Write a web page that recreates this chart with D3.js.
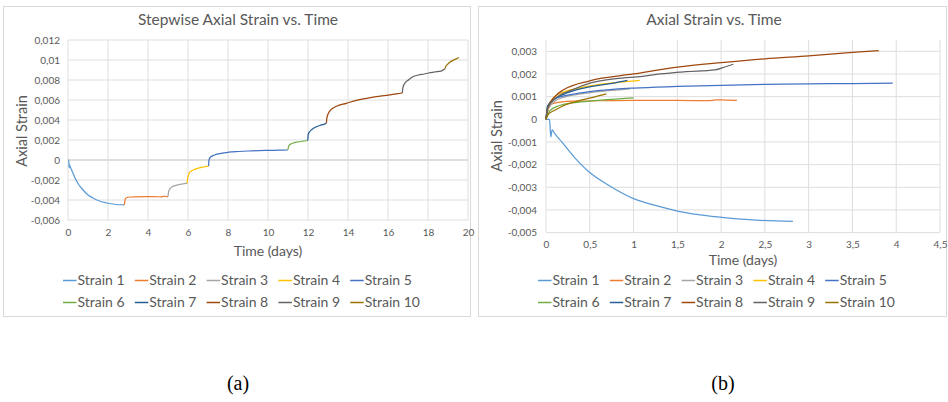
<!DOCTYPE html>
<html>
<head>
<meta charset="utf-8">
<script src="https://cdn.jsdelivr.net/npm/d3@7"></script>
<style>
  body { margin: 0; background: #fff; }
  svg { display: block; font-family: Lato, "Open Sans", sans-serif; }
</style>
</head>
<body>
<svg id="main" width="948" height="402"></svg>
<script>
var seriesNames = ["Strain 1", "Strain 2", "Strain 3", "Strain 4", "Strain 5",
                   "Strain 6", "Strain 7", "Strain 8", "Strain 9", "Strain 10"];
var seriesColors = ["#5B9BD5", "#ED7D31", "#A5A5A5", "#FFC000", "#4472C4",
                    "#70AD47", "#255E91", "#9E480E", "#636363", "#997300"];

// time since the start of each load step (days)
var dayPoints = [
  [0, 0.04, 0.055, 0.07, 0.1, 0.18, 0.33, 0.5, 0.71, 1.0, 1.25, 1.5, 1.93, 2.4, 2.82],
  [0, 0.03, 0.08, 0.3, 0.6, 1.0, 1.5, 1.85, 1.95, 2.05, 2.18],
  [0, 0.03, 0.1, 0.2, 0.4, 0.6, 0.8, 0.96],
  [0, 0.03, 0.1, 0.2, 0.4, 0.6, 0.8, 1.07],
  [0, 0.02, 0.1, 0.3, 0.5, 1.0, 1.5, 2.0, 2.5, 3.0, 3.5, 3.96],
  [0, 0.05, 0.15, 0.3, 0.5, 0.75, 1.0],
  [0, 0.02, 0.1, 0.2, 0.4, 0.6, 0.8, 0.93],
  [0, 0.02, 0.1, 0.2, 0.5, 1.0, 1.5, 2.0, 2.5, 3.0, 3.5, 3.8],
  [0, 0.02, 0.1, 0.3, 0.5, 0.8, 1.1, 1.3, 1.6, 1.93, 2.05, 2.14],
  [0, 0.02, 0.1, 0.2, 0.4, 0.55, 0.69]
];
// axial strain of each load step, measured from its own start
var strainPoints = [
  [0, 0, -0.00078, -0.00047, -0.00063, -0.001, -0.0017, -0.00235, -0.0029, -0.0035, -0.0038, -0.00405, -0.0043, -0.00445, -0.0045],
  [0, 0.0005, 0.0007, 0.0008, 0.00082, 0.00083, 0.00083, 0.00082, 0.00086, 0.00085, 0.00084],
  [0, 0.0005, 0.0008, 0.00097, 0.00112, 0.00122, 0.00129, 0.00134],
  [0, 0.0006, 0.001, 0.0012, 0.0014, 0.00153, 0.00162, 0.00172],
  [0, 0.0006, 0.0009, 0.0011, 0.00122, 0.00138, 0.00145, 0.0015, 0.00154, 0.00156, 0.00158, 0.0016],
  [0, 0.0004, 0.0006, 0.00072, 0.0008, 0.00088, 0.00095],
  [0, 0.0006, 0.0009, 0.0011, 0.00135, 0.0015, 0.00162, 0.00172],
  [0, 0.0005, 0.001, 0.0013, 0.0017, 0.002, 0.0023, 0.0025, 0.00267, 0.0028, 0.00295, 0.00303],
  [0, 0.0005, 0.0009, 0.0013, 0.0016, 0.0018, 0.0019, 0.002, 0.0021, 0.00218, 0.00232, 0.00243],
  [0, 0.0002, 0.0004, 0.0006, 0.00085, 0.00098, 0.00112]
];

var stepDayTicks = [0, 2, 4, 6, 8, 10, 12, 14, 16, 18, 20];
var stepStrainTicks = [-0.006, -0.004, -0.002, 0, 0.002, 0.004, 0.006, 0.008, 0.01, 0.012];
var dayTicks = [0, 0.5, 1, 1.5, 2, 2.5, 3, 3.5, 4, 4.5];
var strainTicks = [-0.005, -0.004, -0.003, -0.002, -0.001, 0, 0.001, 0.002, 0.003];

var svg = d3.select("#main");
var grey = "#595959", gridColor = "#DEDEDE";

function fmt(v) { return (+v.toFixed(4)).toString().replace(".", ","); }

// series for panel (a): every step chained onto the end of the previous one
var stepSeries = [];
var t0 = 0, e0 = 0;
dayPoints.forEach(function(days, i) {
  stepSeries.push(days.map(function(d, j) { return [t0 + d, e0 + strainPoints[i][j]]; }));
  t0 += days[days.length - 1];
  e0 += strainPoints[i][strainPoints[i].length - 1];
});
// series for panel (b): each step from its own origin
var relSeries = dayPoints.map(function(days, i) {
  return days.map(function(d, j) { return [d, strainPoints[i][j]]; });
});

function drawPanel(p) {
  var g = svg.append("g");
  g.append("rect")
    .attr("x", p.frame[0] + 0.5).attr("y", p.frame[1] + 0.5)
    .attr("width", p.frame[2]).attr("height", p.frame[3])
    .attr("fill", "#fff").attr("stroke", "#D9D9D9");

  var x = d3.scaleLinear().domain(p.xDomain).range([p.left, p.right]);
  var y = d3.scaleLinear().domain(p.yDomain).range([p.bottom, p.top]);

  // grid
  g.append("g").selectAll("line").data(p.xTicks).enter().append("line")
    .attr("x1", function(d) { return x(d); }).attr("x2", function(d) { return x(d); })
    .attr("y1", p.top).attr("y2", p.bottom)
    .attr("stroke", gridColor).attr("stroke-width", 1);
  g.append("g").selectAll("line").data(p.yTicks).enter().append("line")
    .attr("x1", p.left).attr("x2", p.right)
    .attr("y1", function(d) { return y(d); }).attr("y2", function(d) { return y(d); })
    .attr("stroke", gridColor).attr("stroke-width", function(d) { return d === 0 ? p.zeroWidth : 1; });

  // axes (labels only)
  var xAxis = g.append("g").attr("transform", "translate(0," + p.bottom + ")")
    .call(d3.axisBottom(x).tickValues(p.xTicks).tickFormat(fmt).tickSize(0).tickPadding(p.xPad));
  var yAxis = g.append("g").attr("transform", "translate(" + p.left + ",0)")
    .call(d3.axisLeft(y).tickValues(p.yTicks).tickFormat(fmt).tickSize(0).tickPadding(p.yPad));
  [xAxis, yAxis].forEach(function(a) {
    a.select(".domain").remove();
    a.attr("font-family", null).attr("font-size", 10);
    a.selectAll("text").attr("fill", grey);
  });

  // lines
  var line = d3.line()
    .x(function(d) { return x(d[0]); })
    .y(function(d) { return y(d[1]); })
    .curve(d3.curveMonotoneX);
  g.append("g").selectAll("path").data(p.series).enter().append("path")
    .attr("d", line)
    .attr("fill", "none")
    .attr("stroke", function(d, i) { return seriesColors[i]; })
    .attr("stroke-width", 1.25);

  // titles
  g.append("text")
    .attr("x", p.titleX).attr("y", 25)
    .attr("text-anchor", "middle").attr("font-size", 15.5).attr("fill", grey)
    .text(p.title);
  g.append("text")
    .attr("transform", "translate(" + p.yTitleX + "," + p.yTitleY + ") rotate(-90)")
    .attr("text-anchor", "middle").attr("font-size", 14.5).attr("fill", grey)
    .text("Axial Strain");
  g.append("text")
    .attr("x", (p.left + p.right) / 2).attr("y", p.xTitleY)
    .attr("text-anchor", "middle").attr("font-size", 14).attr("fill", grey)
    .text("Time (days)");

  // legend
  var legend = g.append("g").selectAll("g").data(seriesNames).enter().append("g")
    .attr("transform", function(d, i) {
      return "translate(" + (p.legendX + (i % 5) * 71.8) + "," + (i < 5 ? 285 : 307) + ")";
    });
  legend.append("line")
    .attr("x1", 0).attr("x2", 13.5).attr("y1", -4.5).attr("y2", -4.5)
    .attr("stroke", function(d, i) { return seriesColors[i]; })
    .attr("stroke-width", 1.5);
  legend.append("text")
    .attr("x", 14.5).attr("y", 0)
    .attr("font-size", 14).attr("fill", grey)
    .text(function(d) { return d; });

  svg.append("text")
    .attr("x", p.captionX).attr("y", 390)
    .attr("text-anchor", "middle")
    .attr("font-family", "'Liberation Serif', 'DejaVu Serif', serif")
    .attr("font-size", 20).attr("fill", "#000")
    .text(p.caption);
}

drawPanel({
  frame: [3, 6, 467, 310],
  left: 68, right: 468, top: 40, bottom: 220,
  xDomain: [0, 20], yDomain: [-0.006, 0.012],
  xTicks: stepDayTicks, yTicks: stepStrainTicks,
  xPad: 8.5, yPad: 8, zeroWidth: 2,
  series: stepSeries,
  title: "Stepwise Axial Strain vs. Time", titleX: 238,
  yTitleX: 27, yTitleY: 131, xTitleY: 256,
  legendX: 63,
  caption: "(a)", captionX: 238
});

drawPanel({
  frame: [478, 6, 468, 310],
  left: 546, right: 940, top: 40, bottom: 232.6,
  xDomain: [0, 4.5], yDomain: [-0.005, 0.0035],
  xTicks: dayTicks, yTicks: strainTicks,
  xPad: 8, yPad: 9, zeroWidth: 1,
  series: relSeries,
  title: "Axial Strain vs. Time", titleX: 714,
  yTitleX: 502, yTitleY: 136, xTitleY: 265,
  legendX: 538,
  caption: "(b)", captionX: 723
});
</script>
</body>
</html>
